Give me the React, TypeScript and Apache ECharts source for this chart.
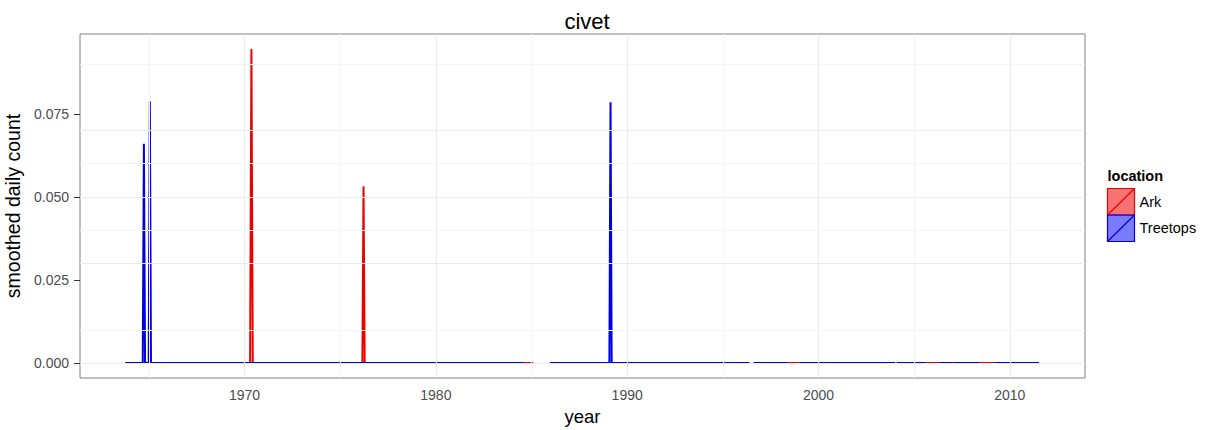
import React, { useEffect, useRef } from "react";
import * as echarts from "echarts";

// Smoothed daily counts per location, as [year, count]; null marks a break in the record.
const arkPoints: ([number, number] | null)[] = [
  [1969.9, 0], [1970.29, 0], [1970.36, 0.0945], [1970.43, 0], [1970.9, 0], null,
  [1975.8, 0], [1976.16, 0], [1976.22, 0.0532], [1976.28, 0], [1976.7, 0], null,
  [1984.55, 0], [1985.1, 0], null,
  [1998.35, 0], [1999.02, 0], null,
  [2005.55, 0], [2006.32, 0], null,
  [2006.94, 0], [2007.06, 0], null,
  [2008.35, 0], [2009.22, 0],
];

const treetopsPoints: ([number, number] | null)[] = [
  [1963.76, 0], [1964.68, 0], [1964.74, 0.066], [1964.8, 0], [1964.99, 0], [1965.05, 0.0788], [1965.11, 0], [1984.6, 0], null,
  [1985.96, 0], [1989.07, 0], [1989.13, 0.0785], [1989.19, 0], [1996.4, 0], null,
  [1996.6, 0], [1998.4, 0], null,
  [1999.0, 0], [2004.02, 0], null,
  [2004.08, 0], [2005.6, 0], null,
  [2006.3, 0], [2006.97, 0], null,
  [2007.03, 0], [2008.4, 0], null,
  [2009.2, 0], [2011.53, 0],
];

const X_TICKS = [1970, 1980, 1990, 2000, 2010];
const X_MINOR = [1965, 1975, 1985, 1995, 2005];
const Y_TICKS = [0, 0.025, 0.05, 0.075];
const Y_MINOR = [0.0125, 0.0375, 0.0625, 0.0875];

const LOCATIONS = ["Ark", "Treetops"];
const LINE_COLORS = ["#ee0000", "#0000e6"];
const KEY_FILLS = ["rgba(240,0,0,0.55)", "rgba(0,0,250,0.52)"];

const FONT = "'Liberation Sans', Arial, Helvetica, sans-serif";
const MAJOR_GRID = "#ebebeb";
const MINOR_GRID = "#f5f5f5";

const toSeriesData = (pts: ([number, number] | null)[]) =>
  pts.map((p) => (p === null ? [NaN, NaN] : p));

function buildOption(): echarts.EChartsOption {
  const gridLines: any[] = [
    ...X_MINOR.map((v) => ({ xAxis: v, lineStyle: { color: MINOR_GRID } })),
    ...Y_MINOR.map((v) => ({ yAxis: v, lineStyle: { color: MINOR_GRID } })),
    ...X_TICKS.map((v) => ({ xAxis: v, lineStyle: { color: MAJOR_GRID } })),
    ...Y_TICKS.map((v) => ({ yAxis: v, lineStyle: { color: MAJOR_GRID } })),
  ];

  const legendX = 1107.5;
  const keyTop = 188.5;
  const keyW = 27;
  const keyH = 26.5;
  const legendChildren: any[] = [
    {
      type: "text",
      x: legendX,
      y: 176,
      style: {
        text: "location",
        font: `bold 14.5px ${FONT}`,
        fill: "#000",
        verticalAlign: "middle",
      },
    },
  ];
  LOCATIONS.forEach((name, i) => {
    const top = keyTop + i * keyH;
    legendChildren.push(
      {
        type: "rect",
        shape: { x: legendX, y: top, width: keyW, height: keyH },
        style: { fill: KEY_FILLS[i], stroke: LINE_COLORS[i], lineWidth: 1.2 },
      },
      {
        type: "line",
        shape: { x1: legendX, y1: top + keyH, x2: legendX + keyW, y2: top },
        style: { stroke: LINE_COLORS[i], lineWidth: 1.2 },
      },
      {
        type: "text",
        x: legendX + keyW + 5,
        y: top + keyH / 2,
        style: {
          text: name,
          font: `14.5px ${FONT}`,
          fill: "#000",
          verticalAlign: "middle",
        },
      }
    );
  });

  return {
    animation: false,
    backgroundColor: "#ffffff",
    textStyle: { fontFamily: FONT },
    title: {
      text: "civet",
      left: 582,
      top: 5,
      textAlign: "center",
      textStyle: { fontFamily: FONT, fontSize: 22, fontWeight: "normal", color: "#000" },
    },
    grid: {
      left: 80,
      right: 122,
      top: 34,
      bottom: 52,
      show: true,
      borderColor: "#808080",
      borderWidth: 1,
      backgroundColor: "transparent",
      containLabel: false,
      outerBoundsMode: "none",
    } as any,
    xAxis: {
      type: "value",
      min: 1961.4,
      max: 2013.93,
      name: "year",
      nameLocation: "middle",
      nameGap: 28,
      nameTextStyle: { fontFamily: FONT, fontSize: 18.5, color: "#000" },
      axisLine: { show: false },
      axisTick: { show: true, customValues: X_TICKS, length: 6, lineStyle: { color: "#333" } },
      axisLabel: {
        customValues: X_TICKS,
        color: "#4d4d4d",
        fontSize: 14,
        margin: 10,
        fontFamily: FONT,
        formatter: (v: number) => String(v),
      },
      splitLine: { show: false },
    } as any,
    yAxis: {
      type: "value",
      min: -0.0045,
      max: 0.099,
      name: "smoothed daily count",
      nameLocation: "middle",
      nameGap: 46,
      nameTextStyle: { fontFamily: FONT, fontSize: 19.5, color: "#000" },
      axisLine: { show: false },
      axisTick: { show: true, customValues: Y_TICKS, length: 6, lineStyle: { color: "#333" } },
      axisLabel: {
        customValues: Y_TICKS,
        color: "#4d4d4d",
        fontSize: 14,
        margin: 11,
        fontFamily: FONT,
        formatter: (v: number) => v.toFixed(3),
      },
      splitLine: { show: false },
    } as any,
    series: [
      {
        type: "line",
        name: "grid",
        data: [],
        z: 1,
        silent: true,
        markLine: {
          silent: true,
          symbol: ["none", "none"],
          label: { show: false },
          lineStyle: { type: "solid", width: 1 },
          emphasis: { disabled: true },
          data: gridLines,
        },
      },
      ...LOCATIONS.map((name, i) => ({
        type: "line" as const,
        name,
        data: toSeriesData(i === 0 ? arkPoints : treetopsPoints),
        showSymbol: false,
        connectNulls: false,
        z: 3,
        silent: true,
        lineStyle: { color: LINE_COLORS[i], width: 2 },
        itemStyle: { color: LINE_COLORS[i] },
      })),
    ],
    graphic: [{ type: "group", children: legendChildren }],
  };
}

export default function App() {
  const ref = useRef<HTMLDivElement>(null);

  useEffect(() => {
    if (!ref.current) return;
    const chart = echarts.init(ref.current, null, { renderer: "svg" });
    chart.setOption(buildOption());
    return () => chart.dispose();
  }, []);

  return (
    <div
      ref={ref}
      style={{ position: "absolute", left: 0, top: 0, width: 1207, height: 430 }}
    />
  );
}
